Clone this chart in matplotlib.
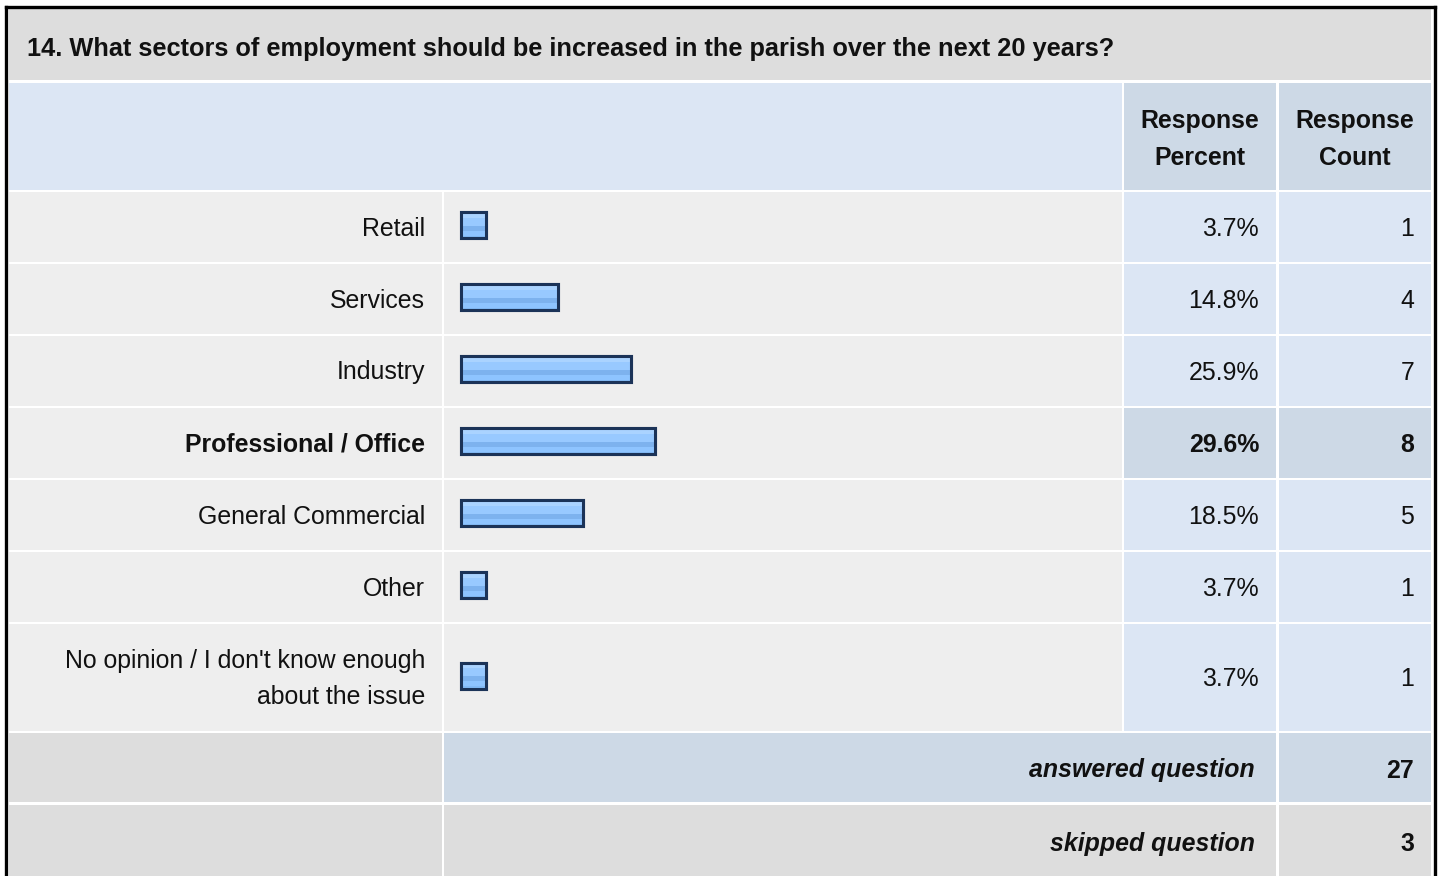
import matplotlib
matplotlib.use("Agg")
import matplotlib.pyplot as plt
from matplotlib.patches import Rectangle
import numpy as np

# ---------------- data ----------------
title = "14. What sectors of employment should be increased in the parish over the next 20 years?"
categories = ["Retail", "Services", "Industry", "Professional / Office",
              "General Commercial", "Other", "No opinion / I don't know enough\nabout the issue"]
percents = [3.7, 14.8, 25.9, 29.6, 18.5, 3.7, 3.7]
counts = [1, 4, 7, 8, 5, 1, 1]
header_percent = "Response\nPercent"
header_count = "Response\nCount"
answered_label = "answered question"
skipped_label = "skipped question"
answered = 27
skipped = 3

# ---------------- layout (pixels) ----------------
W, H = 1440, 876
fig = plt.figure(figsize=(W / 100, H / 100), dpi=100)
fig.patch.set_facecolor("white")
ax = fig.add_axes([0, 0, 1, 1])
ax.set_xlim(0, W)
ax.set_ylim(H, 0)
ax.axis("off")

FONT = "Liberation Sans"
FS = 17.9
LS = 1.62
TXT = "#111111"

C_TITLE = "#DDDDDD"
C_HEAD_L = "#DCE6F4"
C_HEAD = "#CDD9E6"
C_ROW = "#EEEEEE"
C_VAL = "#DCE6F4"
C_GRAY = "#DDDDDD"

# columns
x_lab0, x_lab1 = 9, 442
x_bar0, x_bar1 = 444, 1122
x_pct0, x_pct1 = 1124, 1276
x_cnt0, x_cnt1 = 1279, 1431
gap = 2

def rect(x0, y0, x1, y1, color):
    ax.add_patch(Rectangle((x0, y0), x1 - x0, y1 - y0, facecolor=color,
                           edgecolor="none", zorder=1))

# title row
rect(9, 8, 1431, 80, C_TITLE)
ax.text(27, 49, title, ha="left", va="center", fontsize=18.25, fontweight="bold",
        family=FONT, color=TXT, zorder=3)

# header row
hy0, hy1 = 83, 190
rect(x_lab0, hy0, x_bar1, hy1, C_HEAD_L)
rect(x_pct0, hy0, x_pct1, hy1, C_HEAD)
rect(x_cnt0, hy0, x_cnt1, hy1, C_HEAD)
hc = (hy0 + hy1) / 2 + 3
ax.text((x_pct0 + x_pct1) / 2, hc, header_percent, ha="center", va="center",
        fontsize=FS, fontweight="bold", family=FONT, color=TXT, linespacing=1.7, zorder=3)
ax.text((x_cnt0 + x_cnt1) / 2, hc, header_count, ha="center", va="center",
        fontsize=FS, fontweight="bold", family=FONT, color=TXT, linespacing=1.7, zorder=3)

# data rows
row_heights = [70 if "\n" not in c else 107 for c in categories]
tops = []
y = 192
for h in row_heights:
    tops.append(y)
    y += h + gap

max_idx = int(np.argmax(percents))
centers = []
for i, (cat, p, n) in enumerate(zip(categories, percents, counts)):
    y0 = tops[i]
    y1 = y0 + row_heights[i]
    yc = (y0 + y1) / 2
    centers.append(yc - 2)
    top = i == max_idx
    rect(x_lab0, y0, x_lab1, y1, C_ROW)
    rect(x_bar0, y0, x_bar1, y1, C_ROW)
    rect(x_pct0, y0, x_pct1, y1, C_HEAD if top else C_VAL)
    rect(x_cnt0, y0, x_cnt1, y1, C_HEAD if top else C_VAL)
    fw = "bold" if top else "normal"
    ax.text(x_lab1 - 17, yc + 1.5, cat, ha="right", va="center", fontsize=FS,
            fontweight=fw, family=FONT, color=TXT, linespacing=1.65, zorder=3)
    ax.text(x_pct1 - 17, yc + 1.5, f"{p:.1f}%", ha="right", va="center", fontsize=FS,
            fontweight=fw, family=FONT, color=TXT, zorder=3)
    ax.text(x_cnt1 - 17, yc + 1.5, f"{n}", ha="right", va="center", fontsize=FS,
            fontweight=fw, family=FONT, color=TXT, zorder=3)

# answered / skipped rows
ay0 = y
ay1 = ay0 + 69
rect(x_lab0, ay0, x_lab1, ay1, C_GRAY)
rect(x_bar0, ay0, x_pct1, ay1, C_HEAD)
rect(x_cnt0, ay0, x_cnt1, ay1, C_HEAD)
ac = (ay0 + ay1) / 2 + 3
ax.text(x_pct1 - 21, ac, answered_label, ha="right", va="center", fontsize=FS,
        fontweight="bold", style="italic", family=FONT, color=TXT, zorder=3)
ax.text(x_cnt1 - 17, ac, f"{answered}", ha="right", va="center", fontsize=FS,
        fontweight="bold", family=FONT, color=TXT, zorder=3)

sy0 = ay1 + 3
sy1 = H + 5
rect(x_lab0, sy0, x_lab1, sy1, C_GRAY)
rect(x_bar0, sy0, x_pct1, sy1, C_GRAY)
rect(x_cnt0, sy0, x_cnt1, sy1, C_GRAY)
sc = 844
ax.text(x_pct1 - 21, sc, skipped_label, ha="right", va="center", fontsize=FS,
        fontweight="bold", style="italic", family=FONT, color=TXT, zorder=3)
ax.text(x_cnt1 - 17, sc, f"{skipped}", ha="right", va="center", fontsize=FS,
        fontweight="bold", family=FONT, color=TXT, zorder=3)

# outer border
ax.plot([6, 6], [H + 5, 6.5], color="black", lw=2.4, solid_capstyle="projecting", zorder=4)
ax.plot([6, 1434.5], [6.5, 6.5], color="black", lw=2.4, solid_capstyle="projecting", zorder=4)
ax.plot([1434.5, 1434.5], [6.5, H + 5], color="black", lw=2.4, solid_capstyle="projecting", zorder=4)

# ---------------- bars (percent scale axis) ----------------
px_per_pct = 6.55
x0_px = 461.5
bax = fig.add_axes([0, 0, 1, 1])
bax.set_xlim(-x0_px / px_per_pct, (W - x0_px) / px_per_pct)
bax.set_ylim(H, 0)
bax.axis("off")
bax.patch.set_alpha(0)

bars = bax.barh(centers, percents, height=26, color="#96C8FF",
                edgecolor="#1B3358", linewidth=2.2, zorder=2)

grad_colors = ["#CDE5FF", "#CDE5FF", "#AAD3FF", "#AAD3FF", "#AAD3FF", "#98C9FF",
               "#98C9FF", "#98C9FF", "#98C9FF", "#98C9FF", "#98C9FF", "#7DB2EE",
               "#7DB2EE", "#7DB2EE", "#7DB2EE", "#8EC4FF", "#8EC4FF", "#8EC4FF",
               "#8EC4FF", "#82BAF6", "#82BAF6"]
grad = np.array([matplotlib.colors.to_rgb(c) for c in grad_colors])[:, None, :]
for b in bars:
    x, yb = b.get_x(), b.get_y()
    w, h = b.get_width(), b.get_height()
    im = bax.imshow(grad, extent=(x, x + w, yb + h, yb), aspect="auto",
                    interpolation="nearest", zorder=2.5)
    im.set_clip_path(b)
    edge = Rectangle((x, yb), w, h, facecolor="none", edgecolor="#1B3358",
                     linewidth=2.2, zorder=2.6)
    bax.add_patch(edge)

fig.savefig("out.png", dpi=100, facecolor="white")
